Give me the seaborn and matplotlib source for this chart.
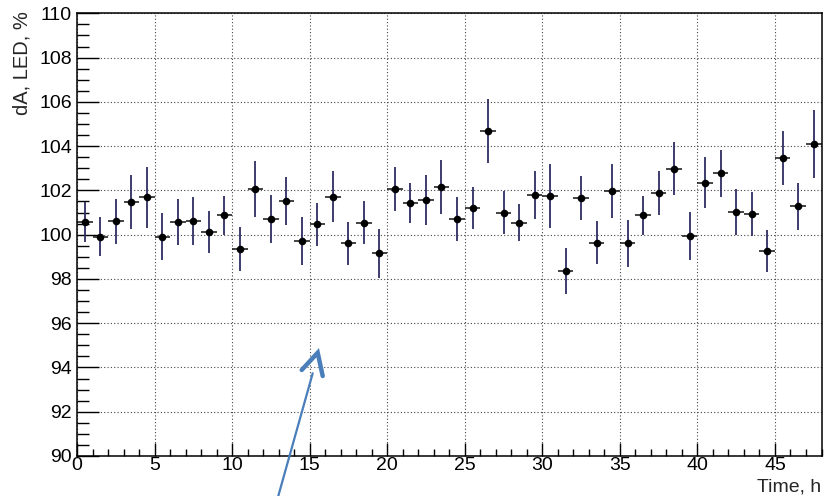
import numpy as np
import pandas as pd
import seaborn as sns
import matplotlib
matplotlib.use("Agg")
import matplotlib.pyplot as plt
from matplotlib.ticker import MultipleLocator
from matplotlib.lines import Line2D

# ---- data ----
time_h = [0.5 + i for i in range(48)]
dA = [100.57, 99.91, 100.60, 101.47, 101.68, 99.91, 100.57, 100.60, 100.12, 100.87,
      99.34, 102.05, 100.69, 101.53, 99.71, 100.47, 101.71, 99.61, 100.54, 99.16,
      102.05, 101.43, 101.55, 102.17, 100.72, 101.20, 104.69, 100.99, 100.54, 101.80,
      101.74, 98.35, 101.64, 99.64, 101.95, 99.61, 100.87, 101.89, 102.98, 99.94,
      102.35, 102.77, 101.02, 100.93, 99.26, 103.46, 101.28, 104.09]
dA_err = [0.90, 0.88, 1.03, 1.22, 1.37, 1.07, 1.02, 1.09, 0.93, 0.89,
          1.00, 1.26, 1.08, 1.09, 1.07, 0.97, 1.15, 0.98, 0.98, 1.10,
          1.00, 0.89, 1.13, 1.22, 1.00, 0.96, 1.44, 0.96, 0.84, 1.08,
          1.44, 1.05, 1.00, 0.98, 1.22, 1.07, 0.89, 0.98, 1.20, 1.08,
          1.14, 1.07, 1.05, 1.00, 0.96, 1.22, 1.05, 1.53]
bin_half = [0.5] * 48
x_ticks = [0, 5, 10, 15, 20, 25, 30, 35, 40, 45]
y_ticks = [90, 92, 94, 96, 98, 100, 102, 104, 106, 108, 110]

df = pd.DataFrame({"t": time_h, "v": dA, "e": dA_err, "h": bin_half})

sns.set_style("white")
plt.rcParams["font.family"] = ["Liberation Sans", "DejaVu Sans"]

W, H = 835, 496
fig = plt.figure(figsize=(W / 100, H / 100), dpi=100)
ax = fig.add_axes([77 / W, 1 - 456 / H, (821.5 - 77) / W, (456 - 13.3) / H])

# error bars
ax.errorbar(df["t"], df["v"], yerr=df["e"], fmt="none", ecolor="#2e2e63",
            elinewidth=1.3, capsize=0, zorder=2)
ax.errorbar(df["t"], df["v"], xerr=df["h"], fmt="none", ecolor="#111111",
            elinewidth=1.1, capsize=0, zorder=2)
sns.scatterplot(data=df, x="t", y="v", ax=ax, color="black", s=30,
                edgecolor="black", linewidth=0, zorder=3, legend=False)

ax.set_xlim(0, 48)
ax.set_ylim(90, 110)
ax.set_xticks(x_ticks)
ax.set_yticks(y_ticks)
ax.xaxis.set_minor_locator(MultipleLocator(1))
ax.yaxis.set_minor_locator(MultipleLocator(0.5))

ax.grid(True, which="major", linestyle=(0, (1, 2)), linewidth=0.8, color="#444444")
ax.set_axisbelow(True)

ax.tick_params(axis="both", which="both", direction="in", top=False, right=False,
               bottom=True, left=True, labelsize=14, colors="black")
ax.tick_params(axis="y", which="major", length=15.8, width=1.0, pad=3.6)
ax.tick_params(axis="y", which="minor", length=8.6, width=1.0)
ax.tick_params(axis="x", which="major", length=9.4, width=1.0, pad=1)
ax.tick_params(axis="x", which="minor", length=5, width=1.0)

for s in ax.spines.values():
    s.set_color("black")
    s.set_linewidth(1.1)

ax.set_xlabel("")
ax.set_ylabel("")
fig.text(821 / W, 0.002, "Time, h", ha="right", va="bottom", fontsize=14)
fig.text(22 / W, 1 - 11 / H, "dA, LED, %", ha="center", va="top", rotation=90,
         fontsize=14.5)

# arrow annotation (blue, overlay)
def fp(px, py):
    return (px / W, 1 - py / H)

acol = "#4a7ebb"
sx, sy = zip(fp(278, 497), fp(312.7, 373.3))
fig.add_artist(Line2D(sx, sy, color=acol, linewidth=1.6, transform=fig.transFigure))
hx, hy = zip(fp(301.7, 370), fp(317.7, 352.7), fp(322.7, 376))
fig.add_artist(Line2D(hx, hy, color=acol, linewidth=3.2, transform=fig.transFigure,
                      solid_joinstyle="miter"))

fig.savefig("out.png", dpi=100)
